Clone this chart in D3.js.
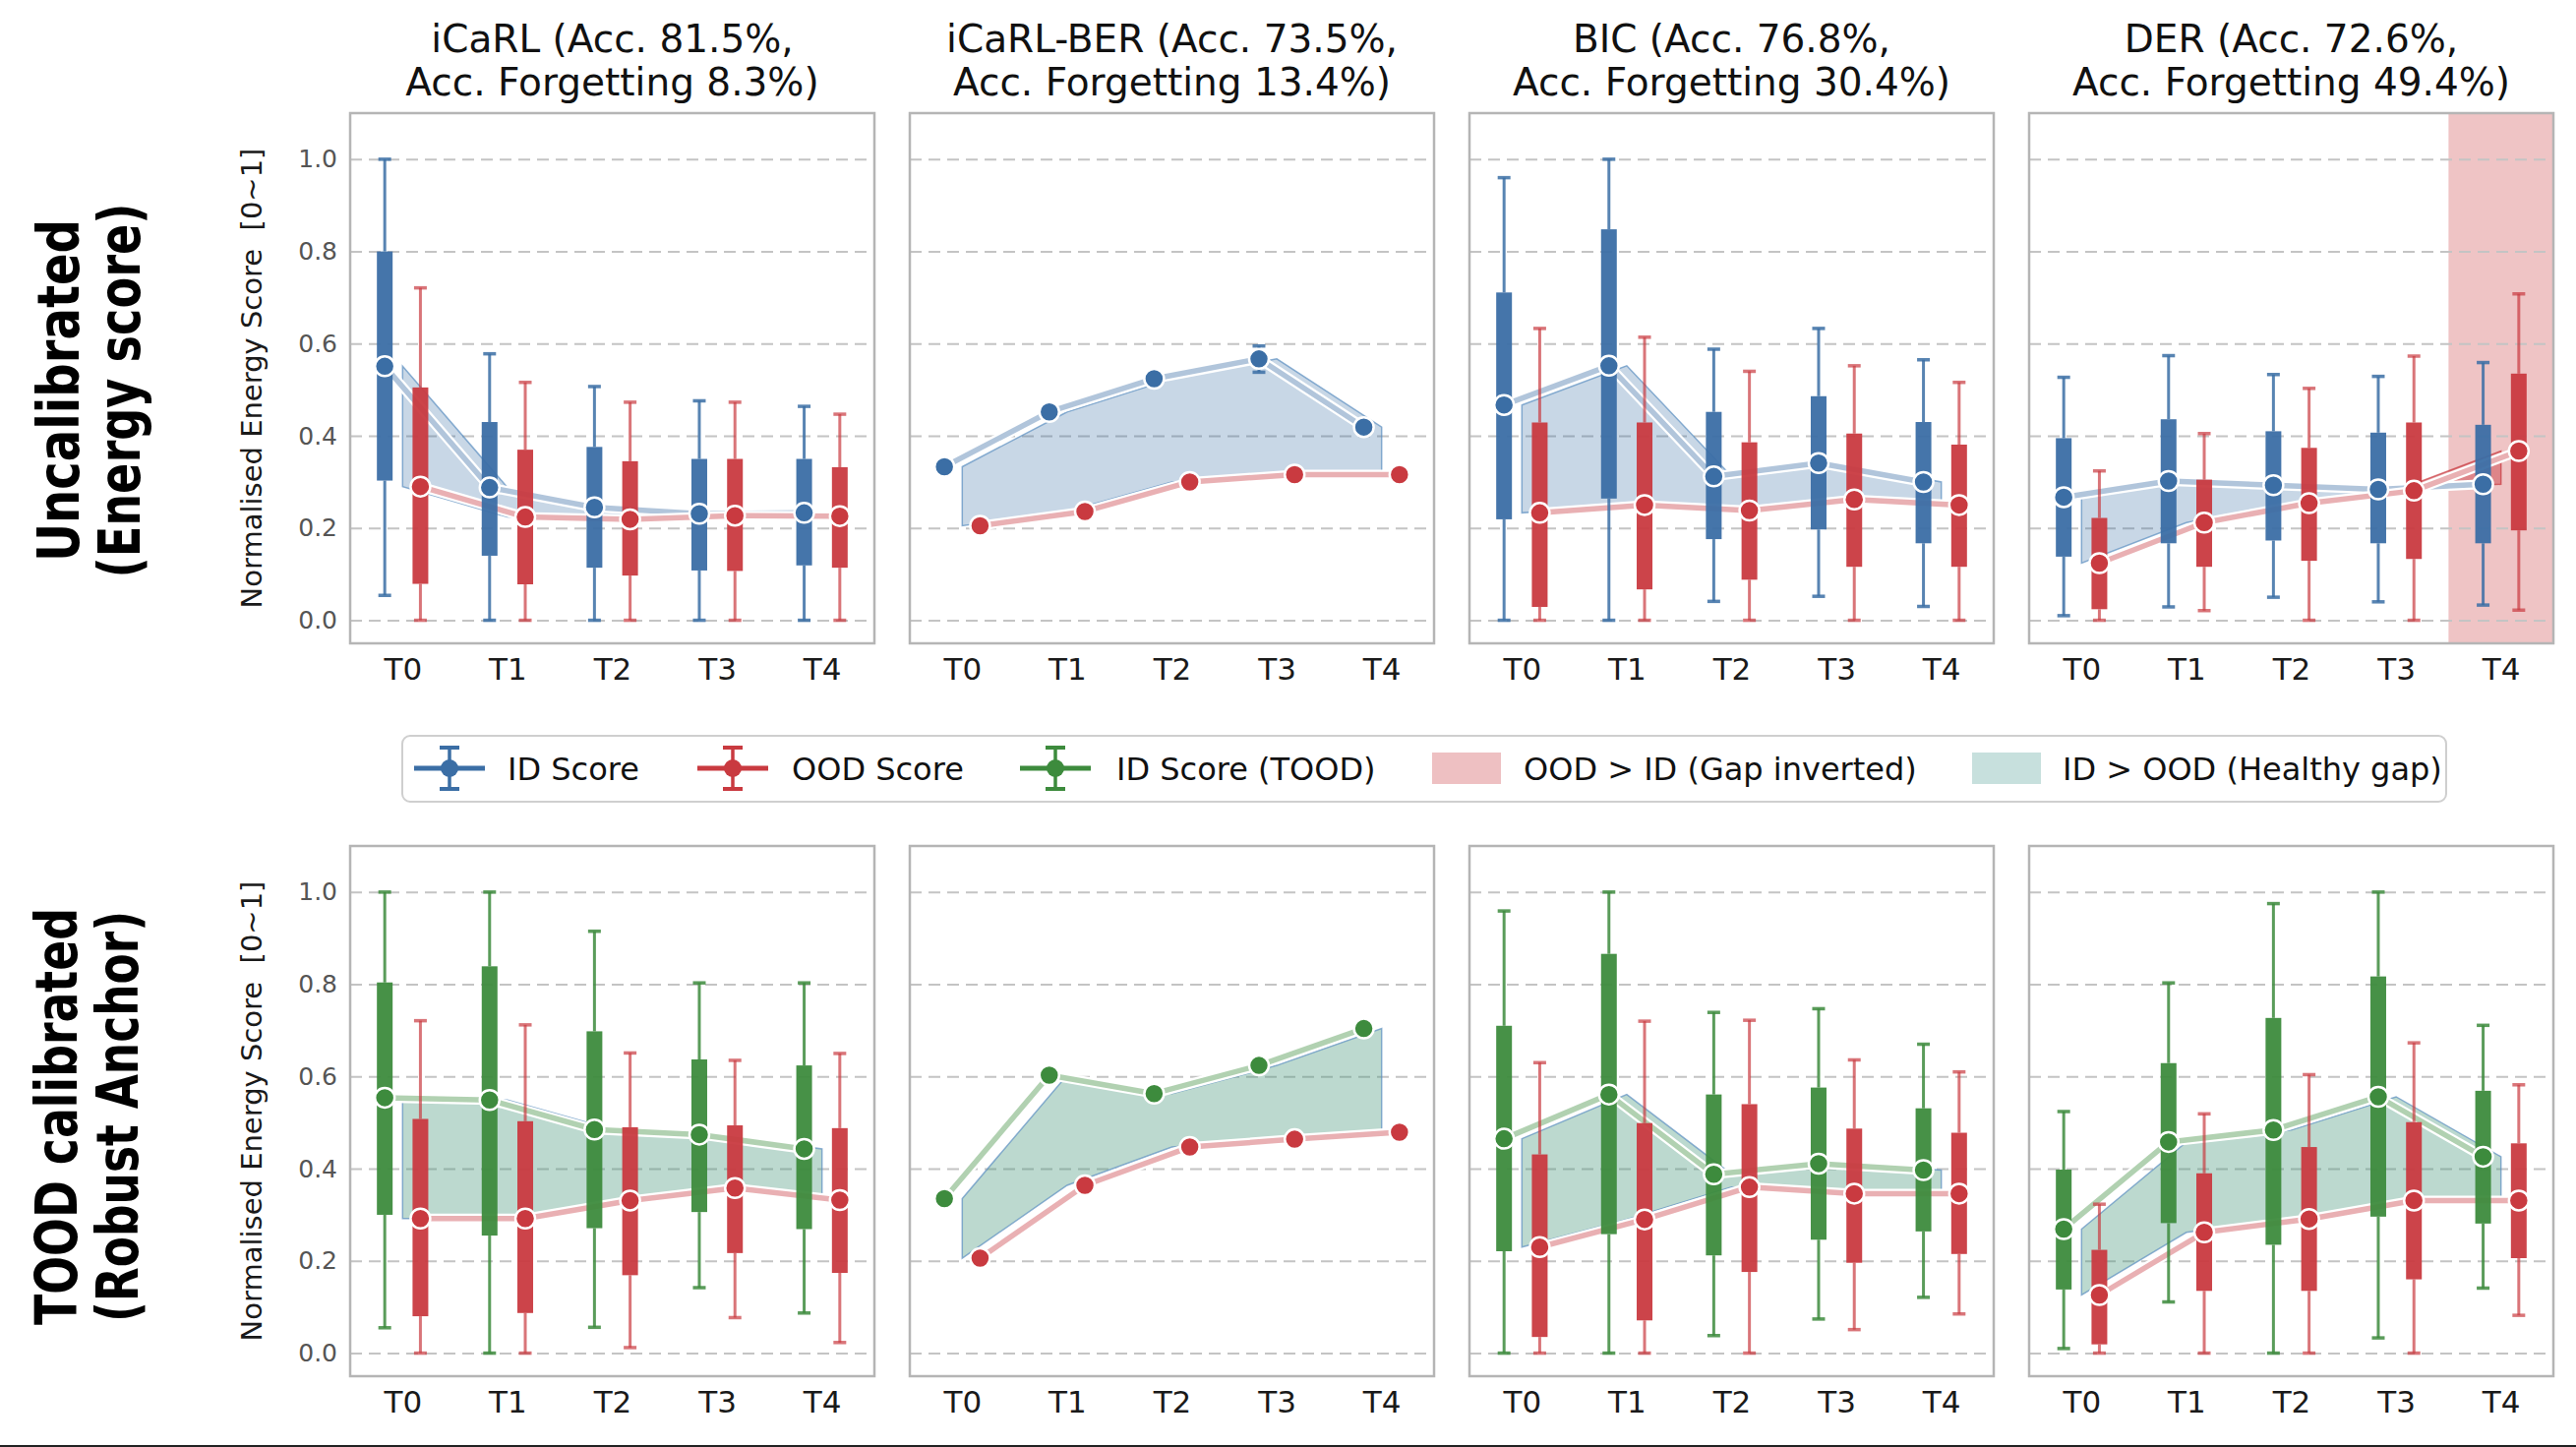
<!DOCTYPE html>
<html><head><meta charset="utf-8">
<script src="https://cdn.jsdelivr.net/npm/d3@7"></script>
<style>html,body{margin:0;padding:0;background:#fff;} svg{display:block;} text{font-family:"DejaVu Sans",sans-serif;}</style>
</head><body>
<svg id="chart" width="2619" height="1471"></svg>
<script>
// ---------------- DATA ----------------
const tasks = ["T0", "T1", "T2", "T3", "T4"];
const methods = ["iCaRL", "iCaRL-BER", "BIC", "DER"];
const titleLine1 = ["iCaRL (Acc. 81.5%,", "iCaRL-BER (Acc. 73.5%,", "BIC (Acc. 76.8%,", "DER (Acc. 72.6%,"];
const titleLine2 = ["Acc. Forgetting 8.3%)", "Acc. Forgetting 13.4%)", "Acc. Forgetting 30.4%)", "Acc. Forgetting 49.4%)"];
const rowLabels = [["Uncalibrated", "(Energy score)"], ["TOOD calibrated", "(Robust Anchor)"]];
const yTicks = [0.0, 0.2, 0.4, 0.6, 0.8, 1.0];
const legendLabels = ["ID Score", "OOD Score", "ID Score (TOOD)", "OOD > ID (Gap inverted)", "ID > OOD (Healthy gap)"];

// each entry per task: [whiskerLow, q1, median, q3, whiskerHigh]
// Row 1: Uncalibrated (energy score)
const icarl_unc_id  = [[0.054,0.303,0.551,0.800,1.000],[0.000,0.140,0.288,0.430,0.578],[0.000,0.114,0.245,0.376,0.507],[0.000,0.108,0.231,0.350,0.476],[0.000,0.119,0.233,0.350,0.464]];
const icarl_unc_ood = [[0.000,0.079,0.290,0.505,0.721],[0.000,0.078,0.224,0.370,0.516],[0.000,0.097,0.219,0.345,0.473],[0.000,0.107,0.227,0.350,0.473],[0.000,0.114,0.226,0.332,0.447]];
const ber_unc_id    = [[0.323,0.328,0.333,0.338,0.343],[0.442,0.447,0.452,0.457,0.462],[0.514,0.519,0.524,0.529,0.534],[0.538,0.555,0.567,0.580,0.595],[0.409,0.414,0.419,0.424,0.429]];
const ber_unc_ood   = [[0.195,0.200,0.205,0.210,0.215],[0.226,0.231,0.236,0.241,0.246],[0.290,0.295,0.300,0.305,0.310],[0.306,0.311,0.316,0.321,0.326],[0.306,0.311,0.316,0.321,0.326]];
const bic_unc_id    = [[0.000,0.219,0.467,0.711,0.960],[0.000,0.264,0.552,0.848,1.000],[0.041,0.176,0.312,0.452,0.588],[0.052,0.197,0.341,0.486,0.633],[0.030,0.167,0.300,0.430,0.565]];
const bic_unc_ood   = [[0.000,0.029,0.233,0.429,0.633],[0.000,0.067,0.250,0.429,0.614],[0.000,0.088,0.238,0.386,0.540],[0.000,0.116,0.262,0.405,0.552],[0.000,0.116,0.250,0.381,0.516]];
const der_unc_id    = [[0.010,0.138,0.267,0.395,0.527],[0.029,0.167,0.302,0.436,0.574],[0.050,0.173,0.293,0.410,0.533],[0.040,0.167,0.284,0.407,0.529],[0.033,0.167,0.295,0.424,0.559]];
const der_unc_ood   = [[0.000,0.024,0.124,0.222,0.324],[0.021,0.116,0.212,0.305,0.405],[0.000,0.129,0.254,0.374,0.503],[0.000,0.133,0.281,0.429,0.573],[0.022,0.195,0.367,0.535,0.708]];
// Row 2: TOOD calibrated (robust anchor)
const icarl_tood_id  = [[0.055,0.300,0.554,0.804,1.000],[0.000,0.255,0.549,0.839,1.000],[0.056,0.271,0.485,0.698,0.915],[0.142,0.306,0.474,0.637,0.803],[0.087,0.269,0.443,0.624,0.803]];
const icarl_tood_ood = [[0.000,0.080,0.292,0.508,0.721],[0.000,0.087,0.292,0.503,0.712],[0.012,0.169,0.331,0.490,0.651],[0.077,0.217,0.358,0.494,0.635],[0.023,0.174,0.332,0.488,0.650]];
const ber_tood_id    = [[0.325,0.330,0.335,0.340,0.345],[0.593,0.598,0.603,0.608,0.613],[0.553,0.558,0.563,0.568,0.573],[0.614,0.619,0.624,0.629,0.634],[0.694,0.699,0.704,0.709,0.714]];
const ber_tood_ood   = [[0.196,0.201,0.206,0.211,0.216],[0.354,0.359,0.364,0.369,0.374],[0.437,0.442,0.447,0.452,0.457],[0.454,0.459,0.464,0.469,0.474],[0.469,0.474,0.479,0.484,0.489]];
const bic_tood_id    = [[0.000,0.221,0.465,0.710,0.959],[0.000,0.258,0.561,0.866,1.000],[0.038,0.212,0.388,0.561,0.739],[0.074,0.246,0.411,0.576,0.747],[0.121,0.264,0.397,0.531,0.670]];
const bic_tood_ood   = [[0.000,0.035,0.230,0.431,0.630],[0.000,0.071,0.290,0.499,0.720],[0.000,0.176,0.360,0.540,0.722],[0.051,0.196,0.346,0.487,0.636],[0.085,0.215,0.346,0.478,0.610]];
const der_tood_id    = [[0.010,0.138,0.269,0.398,0.524],[0.111,0.282,0.458,0.629,0.803],[0.000,0.235,0.484,0.727,0.975],[0.033,0.296,0.556,0.817,1.000],[0.141,0.281,0.426,0.569,0.711]];
const der_tood_ood   = [[0.000,0.019,0.126,0.224,0.323],[0.000,0.135,0.262,0.390,0.519],[0.000,0.135,0.291,0.447,0.604],[0.000,0.160,0.331,0.501,0.673],[0.082,0.206,0.331,0.455,0.582]];

// ---------------- STYLE ----------------
const BLUE = "#3b6ea5", RED = "#c93a40", GREEN = "#3d8b3d";
const TEAL = "#4e9a82";
const W = 2619, H = 1471;
const colLefts = [356, 925, 1494, 2063], panelW = 533;
const rowTops = [115, 860], panelH = 539;
const OFF = 0.17, BW = 16, CAPW = 13, R = 10;

const rowsCfg = [
  { idColor: BLUE, gapColor: BLUE, gapOpacity: 0.28,
    data: [[icarl_unc_id, icarl_unc_ood], [ber_unc_id, ber_unc_ood], [bic_unc_id, bic_unc_ood], [der_unc_id, der_unc_ood]] },
  { idColor: GREEN, gapColor: TEAL, gapOpacity: 0.38,
    data: [[icarl_tood_id, icarl_tood_ood], [ber_tood_id, ber_tood_ood], [bic_tood_id, bic_tood_ood], [der_tood_id, der_tood_ood]] }
];

const svg = d3.select("#chart");
svg.append("rect").attr("width", W).attr("height", H).attr("fill", "#fff");

const x = d3.scaleLinear().domain([-0.5, 4.5]).range([0, panelW]);
const y = d3.scaleLinear().domain([-0.05, 1.10]).range([panelH, 0]);

function gapPolys(id, ood) {
  const pts = [];
  for (let i = 0; i < id.length; i++) {
    pts.push({ x: i, a: id[i], b: ood[i] });
    if (i < id.length - 1) {
      const d0 = id[i] - ood[i], d1 = id[i + 1] - ood[i + 1];
      if (d0 * d1 < 0) {
        const t = d0 / (d0 - d1);
        const v = id[i] + t * (id[i + 1] - id[i]);
        pts.push({ x: i + t, a: v, b: v, cross: true });
      }
    }
  }
  const polys = [];
  let cur = [pts[0]];
  let sign = Math.sign(pts[0].a - pts[0].b) || 1;
  for (let k = 1; k < pts.length; k++) {
    const p = pts[k];
    cur.push(p);
    if (p.cross) {
      polys.push({ sign, pts: cur });
      cur = [p];
      sign = Math.sign(pts[k + 1].a - pts[k + 1].b) || 1;
    }
  }
  polys.push({ sign, pts: cur });
  return polys;
}

let clipId = 0;
rowsCfg.forEach((row, ri) => {
  row.data.forEach((pair, ci) => {
    const [idD, oodD] = pair;
    const idMed = idD.map(d => d[2]), oodMed = oodD.map(d => d[2]);
    const g = svg.append("g").attr("transform", `translate(${colLefts[ci]},${rowTops[ri]})`);
    const cid = "clip" + (clipId++);
    g.append("clipPath").attr("id", cid).append("rect").attr("width", panelW).attr("height", panelH);
    const inner = g.append("g").attr("clip-path", `url(#${cid})`);

    // inverted gap spans
    idMed.forEach((v, i) => {
      if (oodMed[i] > v) {
        inner.append("rect").attr("x", x(i - 0.5)).attr("y", 0)
          .attr("width", x(i + 0.5) - x(i - 0.5)).attr("height", panelH)
          .attr("fill", RED).attr("fill-opacity", 0.3);
      }
    });

    // grid
    const grid = inner.append("g").call(d3.axisLeft(y).tickValues(yTicks).tickSize(-panelW).tickFormat(""));
    grid.select(".domain").remove();
    grid.selectAll(".tick line").attr("stroke", "#c4c4c4").attr("stroke-width", 2).attr("stroke-dasharray", "12,7");

    // gap fill
    const area = d3.area().x(d => x(d.x)).y0(d => y(d.b)).y1(d => y(d.a));
    gapPolys(idMed, oodMed).forEach(p => {
      inner.append("path").attr("d", area(p.pts) + "Z")
        .attr("fill", p.sign > 0 ? row.gapColor : RED)
        .attr("fill-opacity", p.sign > 0 ? row.gapOpacity : 0.45)
        .attr("stroke", p.sign > 0 ? "#5b8fc0" : RED)
        .attr("stroke-opacity", 0.7).attr("stroke-width", 1.5);
    });

    // median lines
    const line = d3.line().x(d => x(d[0])).y(d => y(d[1]));
    [[idMed, -OFF, row.idColor], [oodMed, OFF, RED]].forEach(([m, off, col]) => {
      const pts = m.map((v, i) => [i + off, v]);
      inner.append("path").attr("d", line(pts)).attr("fill", "none").attr("stroke", "#fff").attr("stroke-width", 10).attr("stroke-linejoin", "round");
      inner.append("path").attr("d", line(pts)).attr("fill", "none").attr("stroke", col).attr("stroke-opacity", 0.4).attr("stroke-width", 5.5).attr("stroke-linejoin", "round");
    });

    // boxes
    [[idD, -OFF, row.idColor, 0.85], [oodD, OFF, RED, 0.7]].forEach(([data, off, col, wop]) => {
      data.forEach((d, i) => {
        const cx = x(i + off);
        const bg = inner.append("g");
        bg.append("line").attr("x1", cx).attr("x2", cx).attr("y1", y(d[0])).attr("y2", y(d[1]))
          .attr("stroke", col).attr("stroke-width", 3).attr("stroke-opacity", wop);
        bg.append("line").attr("x1", cx).attr("x2", cx).attr("y1", y(d[3])).attr("y2", y(d[4]))
          .attr("stroke", col).attr("stroke-width", 3).attr("stroke-opacity", wop);
        [d[0], d[4]].forEach(v => {
          bg.append("line").attr("x1", cx - CAPW / 2).attr("x2", cx + CAPW / 2).attr("y1", y(v)).attr("y2", y(v))
            .attr("stroke", col).attr("stroke-width", 3.5).attr("stroke-opacity", wop);
        });
        bg.append("rect").attr("x", cx - BW / 2).attr("width", BW)
          .attr("y", y(d[3])).attr("height", Math.max(0, y(d[1]) - y(d[3])))
          .attr("fill", col).attr("fill-opacity", 0.95);
      });
    });
    // median markers
    [[idMed, -OFF, row.idColor], [oodMed, OFF, RED]].forEach(([m, off, col]) => {
      m.forEach((v, i) => {
        inner.append("circle").attr("cx", x(i + off)).attr("cy", y(v)).attr("r", R)
          .attr("fill", col).attr("stroke", "#fff").attr("stroke-width", 2.5);
      });
    });

    // frame
    g.append("rect").attr("width", panelW).attr("height", panelH).attr("fill", "none")
      .attr("stroke", "#b5b5b5").attr("stroke-width", 2.5);

    // x axis
    const xa = g.append("g").attr("transform", `translate(0,${panelH})`)
      .call(d3.axisBottom(x).tickValues([0, 1, 2, 3, 4]).tickFormat(i => tasks[i]).tickSize(0).tickPadding(15));
    xa.select(".domain").remove();
    xa.selectAll("text").attr("font-size", 31).attr("fill", "#1a1a1a").attr("font-family", "DejaVu Sans");

    // y axis
    if (ci === 0) {
      const ya = g.append("g").call(d3.axisLeft(y).tickValues(yTicks).tickFormat(d3.format(".1f")).tickSize(0).tickPadding(13));
      ya.select(".domain").remove();
      ya.selectAll("text").attr("font-size", 25).attr("fill", "#555").attr("font-family", "DejaVu Sans");
      g.append("text").attr("transform", `translate(${266 - colLefts[0]},${panelH / 2}) rotate(-90)`)
        .attr("text-anchor", "middle").attr("font-size", 29).attr("fill", "#1a1a1a")
        .text("Normalised Energy Score\u00a0\u00a0[0~1]");
    }

    // titles (top row only)
    if (ri === 0) {
      const tx = colLefts[ci] + panelW / 2;
      svg.append("text").attr("x", tx).attr("y", 53).attr("text-anchor", "middle").attr("font-size", 39).attr("fill", "#111").text(titleLine1[ci]);
      svg.append("text").attr("x", tx).attr("y", 97).attr("text-anchor", "middle").attr("font-size", 39).attr("fill", "#111").text(titleLine2[ci]);
    }
  });
});

// row labels
const rowLabelCfg = [
  { cy: 397, xs: [80, 142], lens: [348, 381] },
  { cy: 1135, xs: [78, 140], lens: [424, 418] }
];
rowLabels.forEach((lbl, ri) => {
  lbl.forEach((t, li) => {
    svg.append("text").attr("transform", `translate(${rowLabelCfg[ri].xs[li]},${rowLabelCfg[ri].cy}) rotate(-90)`)
      .attr("text-anchor", "middle").attr("font-size", 58).attr("font-weight", "bold").attr("fill", "#000")
      .attr("textLength", rowLabelCfg[ri].lens[li]).attr("lengthAdjust", "spacingAndGlyphs")
      .text(t);
  });
});

// legend
const leg = svg.append("g");
leg.append("rect").attr("x", 409).attr("y", 748).attr("width", 2078).attr("height", 67).attr("rx", 8)
  .attr("fill", "#fff").attr("stroke", "#cfcfcf").attr("stroke-width", 2);
const legCY = 781;
const markerItems = [[457, 516, BLUE], [745, 805, RED], [1073, 1135, GREEN]];
markerItems.forEach(([mx, tx, col], k) => {
  leg.append("line").attr("x1", mx - 36).attr("x2", mx + 36).attr("y1", legCY).attr("y2", legCY).attr("stroke", col).attr("stroke-width", 5);
  leg.append("line").attr("x1", mx).attr("x2", mx).attr("y1", legCY - 21).attr("y2", legCY + 21).attr("stroke", col).attr("stroke-width", 3.5);
  [legCY - 21, legCY + 21].forEach(yy => leg.append("line").attr("x1", mx - 10).attr("x2", mx + 10).attr("y1", yy).attr("y2", yy).attr("stroke", col).attr("stroke-width", 4));
  leg.append("circle").attr("cx", mx).attr("cy", legCY).attr("r", 9).attr("fill", col);
  leg.append("text").attr("x", tx).attr("y", legCY).attr("dy", "0.36em").attr("font-size", 32).attr("fill", "#111").text(legendLabels[k]);
});
const patchItems = [[1456, 1549, RED, 0.32], [2005, 2097, "#8fc1bc", 0.5]];
patchItems.forEach(([px, tx, col, op], k) => {
  leg.append("rect").attr("x", px).attr("y", legCY - 16).attr("width", 70).attr("height", 32).attr("fill", col).attr("fill-opacity", op);
  leg.append("text").attr("x", tx).attr("y", legCY).attr("dy", "0.36em").attr("font-size", 32).attr("fill", "#111").text(legendLabels[3 + k]);
});

// bottom rule
svg.append("rect").attr("x", 0).attr("y", 1469).attr("width", W).attr("height", 2).attr("fill", "#222");
</script>
</body></html>
